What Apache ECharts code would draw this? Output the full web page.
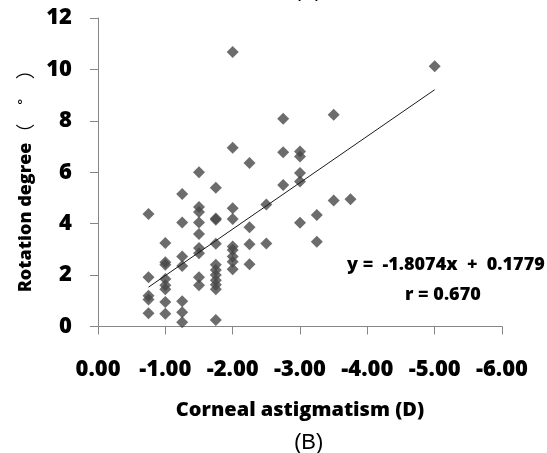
<!DOCTYPE html>
<html>
<head>
<meta charset="utf-8">
<script src="https://cdn.jsdelivr.net/npm/echarts@6/dist/echarts.min.js"></script>
<style>
  html, body { margin: 0; padding: 0; background: #fff; }
  #chart { width: 547px; height: 453px; }
</style>
</head>
<body>
<div id="chart"></div>
<script>
// corneal astigmatism (D), one entry per eye
var astigmatism = [
  -0.75, -0.75, -0.75, -0.75, -0.75,
  -1.00, -1.00, -1.00, -1.00, -1.00, -1.00, -1.00, -1.00,
  -1.25, -1.25, -1.25, -1.25, -1.25, -1.25, -1.25,
  -1.50, -1.50, -1.50, -1.50, -1.50, -1.50, -1.50, -1.50, -1.50,
  -1.75, -1.75, -1.75, -1.75, -1.75, -1.75, -1.75, -1.75, -1.75, -1.75, -1.75,
  -2.00, -2.00, -2.00, -2.00, -2.00, -2.00, -2.00, -2.00, -2.00,
  -2.25, -2.25, -2.25, -2.25,
  -2.50, -2.50,
  -2.75, -2.75, -2.75,
  -3.00, -3.00, -3.00, -3.00, -3.00,
  -3.25, -3.25,
  -3.50, -3.50,
  -3.75,
  -5.00
];
// rotation degree, same order
var rotation = [
  4.38, 1.92, 1.20, 1.05, 0.52,
  3.25, 2.50, 2.40, 1.85, 1.60, 1.45, 0.95, 0.50,
  5.15, 4.05, 2.72, 2.35, 0.98, 0.55, 0.17,
  6.00, 4.65, 4.45, 4.05, 3.60, 3.05, 2.85, 1.92, 1.60,
  5.40, 4.20, 4.15, 3.22, 2.40, 2.20, 2.00, 1.80, 1.62, 1.45, 0.25,
  10.68, 6.95, 4.60, 4.18, 3.11, 2.98, 2.72, 2.52, 2.23,
  6.36, 3.86, 3.20, 2.42,
  4.75, 3.23,
  8.08, 6.78, 5.50,
  6.81, 6.61, 5.97, 5.64, 4.04,
  4.34, 3.30,
  8.24, 4.90,
  4.95,
  10.12
];
// regression line end points
var trendX = [-0.75, -5.00];
var trendY = [1.53, 9.21];

var equationText = 'y =  -1.8074x  +  0.1779';
var rText = 'r = 0.670';

var points = astigmatism.map(function (x, i) { return [x, rotation[i]]; });
var trend = trendX.map(function (x, i) { return [x, trendY[i]]; });

var font = '"Open Sans", "Noto Sans CJK KR", sans-serif';
var axisGray = '#868686';

var chart = echarts.init(document.getElementById('chart'));
chart.setOption({
  animation: false,
  grid: { left: 98, right: 45, top: 18, bottom: 126.5 },
  xAxis: {
    type: 'value',
    min: -6,
    max: 0,
    interval: 1,
    inverse: true,
    name: 'Corneal astigmatism (D)',
    nameLocation: 'middle',
    nameGap: 74,
    nameTextStyle: { fontFamily: font, fontWeight: 800, fontSize: 20, color: '#000' },
    axisLine: { show: true, onZero: false, lineStyle: { color: axisGray, width: 1 } },
    axisTick: { show: true, length: 8, lineStyle: { color: axisGray } },
    splitLine: { show: false },
    axisLabel: {
      margin: 32,
      fontFamily: font,
      fontWeight: 800,
      fontSize: 22,
      color: '#000',
      formatter: function (v) { return v.toFixed(2); }
    }
  },
  yAxis: {
    type: 'value',
    min: 0,
    max: 12,
    interval: 2,
    name: '{a|Rotation degree}{b|（　˚　）}',
    nameLocation: 'middle',
    nameGap: 60,
    nameTextStyle: {
      color: '#000',
      padding: [0, 8, 0, 0],
      rich: {
        a: { fontFamily: font, fontWeight: 800, fontSize: 18, color: '#000' },
        b: { fontFamily: '"Noto Sans CJK KR", sans-serif', fontSize: 19, color: '#000' }
      }
    },
    axisLine: { show: true, onZero: false, lineStyle: { color: axisGray, width: 1 } },
    axisTick: { show: true, length: 8, lineStyle: { color: axisGray } },
    splitLine: { show: false },
    axisLabel: {
      margin: 26,
      fontFamily: font,
      fontWeight: 800,
      fontSize: 22,
      color: '#000'
    }
  },
  series: [
    {
      type: 'scatter',
      data: points,
      symbol: 'diamond',
      symbolSize: 12,
      itemStyle: { color: '#474747' },
      z: 2
    },
    {
      type: 'line',
      data: trend,
      symbol: 'none',
      lineStyle: { color: '#1a1a1a', width: 1 },
      z: 3
    }
  ],
  graphic: [
    {
      type: 'text', left: 347, top: 256,
      style: { text: equationText, fontFamily: font, fontWeight: 800, fontSize: 18, fill: '#000' }
    },
    {
      type: 'text', left: 405, top: 286,
      style: { text: rText, fontFamily: font, fontWeight: 800, fontSize: 18, fill: '#000' }
    },
    {
      type: 'text', left: 294, top: -19,
      style: { text: '(A)', fontFamily: 'Liberation Sans, Arial, sans-serif', fontSize: 21, fill: '#000' }
    },
    {
      type: 'text', left: 294, top: 432,
      style: { text: '(B)', fontFamily: 'Liberation Sans, Arial, sans-serif', fontSize: 22, fill: '#000' }
    }
  ]
});
</script>
</body>
</html>
